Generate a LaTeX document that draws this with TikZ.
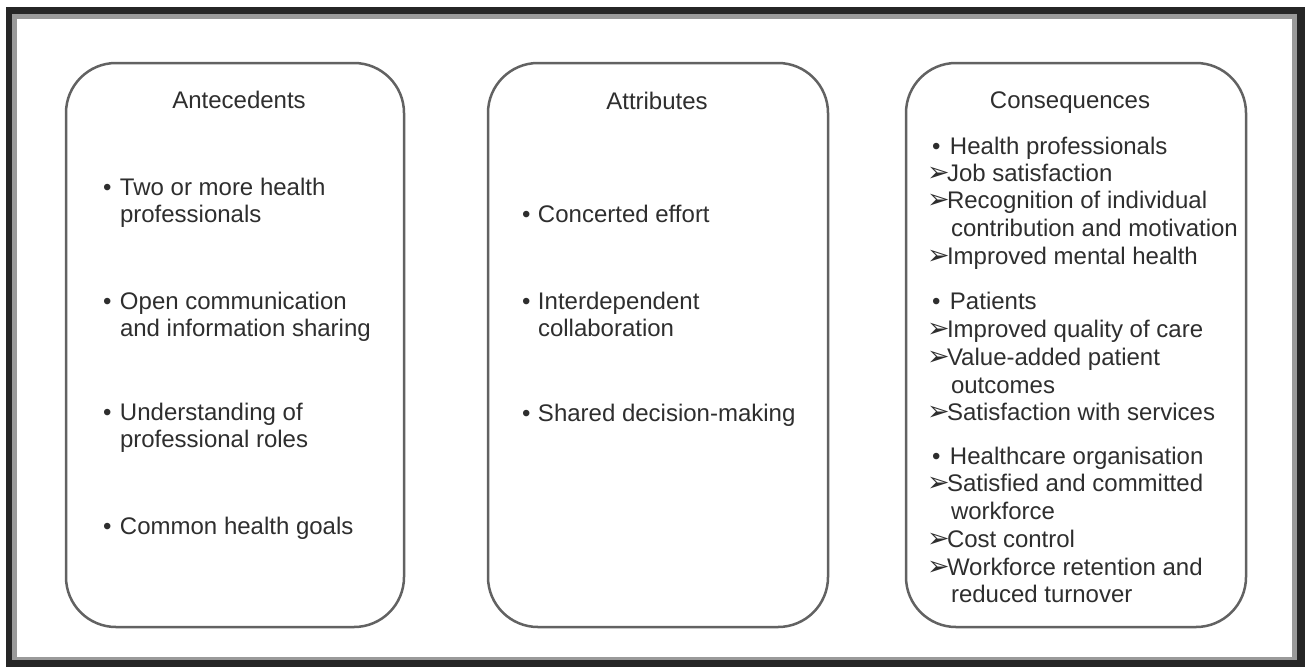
\documentclass[tikz,border=0pt]{standalone}
\usepackage{fontspec}
\setmainfont{Liberation Sans}
\newfontfamily\symfont{DejaVu Sans}
\definecolor{txtc}{HTML}{2E2E2E}
\definecolor{boxc}{HTML}{626262}
\definecolor{framec}{HTML}{262626}
\definecolor{innerc}{HTML}{9A9A9A}
\newcommand{\bul}[1]{\makebox[#1][l]{•}}
\newcommand{\arr}{\makebox[18pt][l]{\hspace{-2pt}\symfont\fontsize{27}{27}\selectfont ➢}}
\begin{document}
\begin{tikzpicture}[x=1pt,y=-1pt,
  every node/.style={inner sep=0pt, outer sep=0pt, text=txtc, font=\fontsize{24}{28}\selectfont},
  ln/.style={anchor=base west},
  ttl/.style={anchor=base},
  box/.style={draw=boxc, line width=2.5pt, rounded corners=50pt, minimum height=564pt}]
\useasboundingbox (0,0) rectangle (1305,667);
\fill[white] (0,0) rectangle (1305,667);
\fill[framec] (6,7) rectangle (1305,667);
\fill[innerc] (12,14) rectangle (1297,660);
\fill[white] (17,19) rectangle (1292,657);

% boxes
\node[box, minimum width=338pt] (b1) at (235,345) {};
\node[box, minimum width=340pt] (b2) at (658,345) {};
\node[box, minimum width=340pt] (b3) at (1076,345) {};

% Antecedents
\node[ttl] (a0) at (239,108) {Antecedents};
\node[ln] (a1) at (103,195) {\bul{17pt}Two or more health};
\node[ln] (a1b) at (120,222) {professionals};
\node[ln] (a2) at (103,309) {\bul{17pt}Open communication};
\node[ln] (a2b) at (120,336) {and information sharing};
\node[ln] (a3) at (103,420) {\bul{17pt}Understanding of};
\node[ln] (a3b) at (120,447) {professional roles};
\node[ln] (a4) at (103,534) {\bul{17pt}Common health goals};

% Attributes
\node[ttl] (t0) at (657,109) {Attributes};
\node[ln] (t1) at (522,222) {\bul{16pt}Concerted effort};
\node[ln] (t2) at (522,309) {\bul{16pt}Interdependent};
\node[ln] (t2b) at (538,336) {collaboration};
\node[ln] (t3) at (522,421) {\bul{16pt}Shared decision-making};

% Consequences
\node[ttl] (c0) at (1070,108) {Consequences};
\node[ln] (c1) at (932,154) {\bul{18pt}Health professionals};
\node[ln] (c2) at (929,181) {\arr Job satisfaction};
\node[ln] (c3) at (929,208) {\arr Recognition of individual};
\node[ln] (c3b) at (951,236) {contribution and motivation};
\node[ln] (c4) at (929,264) {\arr Improved mental health};
\node[ln] (c5) at (932,309) {\bul{18pt}Patients};
\node[ln] (c6) at (929,337) {\arr Improved quality of care};
\node[ln] (c7) at (929,365) {\arr Value-added patient};
\node[ln] (c7b) at (951,393) {outcomes};
\node[ln] (c8) at (929,420) {\arr Satisfaction with services};
\node[ln] (c9) at (932,464) {\bul{18pt}Healthcare organisation};
\node[ln] (c10) at (929,491) {\arr Satisfied and committed};
\node[ln] (c10b) at (951,519) {workforce};
\node[ln] (c11) at (929,547) {\arr Cost control};
\node[ln] (c12) at (929,575) {\arr Workforce retention and};
\node[ln] (c12b) at (951,602) {reduced turnover};
\end{tikzpicture}
\end{document}
